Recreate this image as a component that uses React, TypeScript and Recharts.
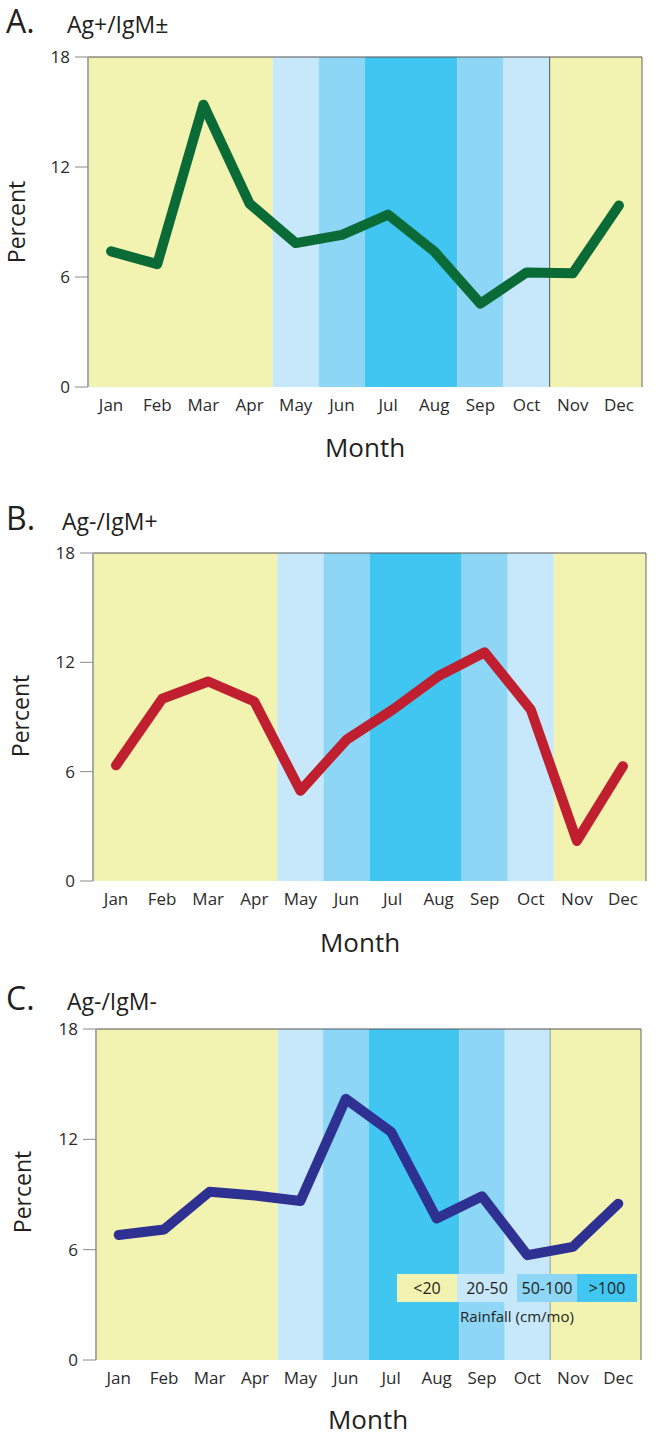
import { ComposedChart, Line, XAxis, YAxis, ReferenceArea, ReferenceLine } from "recharts";

const MONTHS = ["Jan", "Feb", "Mar", "Apr", "May", "Jun", "Jul", "Aug", "Sep", "Oct", "Nov", "Dec"];
const RAIN = ["<20", "<20", "<20", "<20", "20-50", "50-100", ">100", ">100", "50-100", "20-50", "<20", "<20"];
const RAIN_CLASSES = ["<20", "20-50", "50-100", ">100"];
const RAIN_COLORS = ["#f3f3b1", "#c6e8fa", "#8dd6f6", "#40c6f1"];
const Y_TICKS = [0, 6, 12, 18];

const AG_POS = [7.4, 6.7, 15.4, 10.0, 7.85, 8.3, 9.4, 7.4, 4.55, 6.25, 6.2, 9.9];
const AG_NEG_IGM_POS = [6.35, 10.0, 10.95, 9.85, 4.95, 7.75, 9.4, 11.25, 12.55, 9.4, 2.2, 6.3];
const AG_NEG_IGM_NEG = [6.8, 7.1, 9.15, 8.95, 8.65, 14.2, 12.4, 7.7, 8.9, 5.7, 6.15, 8.5];

const FONT = "'Open Sans', sans-serif";
const BOUNDS = Array.from({ length: MONTHS.length + 1 }, (_, i) => i);
const CENTERS = MONTHS.map((_, i) => i + 0.5);

// merge consecutive months with the same rainfall class into one band
const bands: { from: number; to: number; cls: string }[] = [];
RAIN.forEach((cls, i) => {
  const last = bands[bands.length - 1];
  if (last && last.cls === cls) last.to = i + 1;
  else bands.push({ from: i, to: i + 1, cls });
});

type PanelProps = {
  values: number[];
  color: string;
  top: number;
  left: number;
  right: number;
  plotH: number;
  divider?: string;
};

function Panel({ values, color, top, left, right, plotH, divider }: PanelProps) {
  const data = MONTHS.map((m, i) => ({ x: CENTERS[i], month: m, v: values[i] }));
  const yW = 50;
  const pad = 20;
  return (
    <div style={{ position: "absolute", left: 0, top: top - pad }}>
      <ComposedChart
        width={656}
        height={plotH + pad + 40}
        data={data}
        margin={{ top: pad, right: 656 - right, left: left - yW, bottom: 10 }}
      >
        <XAxis
          xAxisId="b"
          type="number"
          dataKey="x"
          domain={[0, 12]}
          ticks={BOUNDS}
          interval={0}
          height={0}
          tick={false}
          tickSize={13}
          tickLine={{ stroke: "#8a8a8a", strokeWidth: 1 }}
          axisLine={{ stroke: "#666", strokeWidth: 1.5 }}
        />
        <XAxis
          xAxisId="m"
          type="number"
          dataKey="x"
          domain={[0, 12]}
          ticks={CENTERS}
          interval={0}
          height={30}
          tickSize={0}
          tickMargin={12}
          tickLine={false}
          axisLine={false}
          tickFormatter={(v: number) => MONTHS[Math.floor(v)]}
          tick={{ fill: "#2b2b2b", fontSize: 17 }}
        />
        <YAxis
          type="number"
          domain={[0, 18]}
          ticks={Y_TICKS}
          interval={0}
          width={yW}
          tickSize={13}
          tickMargin={5}
          tickLine={{ stroke: "#8a8a8a" }}
          axisLine={{ stroke: "#a9a9a0", strokeWidth: 2 }}
          tick={{ fill: "#2b2b2b", fontSize: 17 }}
        />
        {bands.map((b) => (
          <ReferenceArea
            key={b.from}
            xAxisId="m"
            x1={b.from}
            x2={b.to}
            y1={0}
            y2={18}
            fill={RAIN_COLORS[RAIN_CLASSES.indexOf(b.cls)]}
            fillOpacity={1}
            stroke="none"
          />
        ))}
        {divider && <ReferenceLine xAxisId="m" x={10} stroke={divider} strokeWidth={1} />}
        <ReferenceLine xAxisId="m" y={18} stroke="#555" strokeWidth={1} />
        <ReferenceLine xAxisId="m" x={12} stroke="#666" strokeWidth={1} />
        <Line
          xAxisId="m"
          type="linear"
          dataKey="v"
          stroke={color}
          strokeWidth={10}
          strokeLinejoin="round"
          strokeLinecap="round"
          dot={false}
          isAnimationActive={false}
        />
      </ComposedChart>
    </div>
  );
}

function Titles() {
  const t = { fill: "#231f20", fontFamily: FONT };
  const heads = [
    { letter: "A.", name: "Ag+/IgM±", base: 33, nx: 67, px: 16, py: 222, mx: 365, my: 457 },
    { letter: "B.", name: "Ag-/IgM+", base: 530, nx: 62, px: 20, py: 716, mx: 360, my: 952 },
    { letter: "C.", name: "Ag-/IgM-", base: 1010, nx: 67, px: 22, py: 1192, mx: 368, my: 1429 },
  ];
  return (
    <svg width={656} height={1436} style={{ position: "absolute", left: 0, top: 0, pointerEvents: "none" }}>
      {heads.map((h) => (
        <g key={h.letter}>
          <text x={6} y={h.base} fontSize={32} {...t}>{h.letter}</text>
          <text x={h.nx} y={h.base} fontSize={23} {...t}>{h.name}</text>
          <text
            x={h.px}
            y={h.py}
            fontSize={23}
            textAnchor="middle"
            dominantBaseline="central"
            transform={`rotate(-90 ${h.px} ${h.py})`}
            {...t}
          >
            Percent
          </text>
          <text x={h.mx} y={h.my} fontSize={26} textAnchor="middle" {...t}>Month</text>
        </g>
      ))}
      <g>
        {RAIN_CLASSES.map((c, i) => (
          <g key={c}>
            <rect x={397 + i * 60} y={1274} width={60} height={28} fill={RAIN_COLORS[i]} />
            <text x={427 + i * 60} y={1294} fontSize={16} textAnchor="middle" {...t}>{c}</text>
          </g>
        ))}
        <text x={517} y={1322} fontSize={15} textAnchor="middle" {...t}>Rainfall (cm/mo)</text>
      </g>
    </svg>
  );
}

export default function App() {
  return (
    <div style={{ position: "absolute", left: 0, top: 0, width: 656, height: 1436, background: "#fff", fontFamily: FONT }}>
      <Panel values={AG_POS} color="#0b6b37" top={57} left={88} right={642} plotH={330} divider="#555" />
      <Panel values={AG_NEG_IGM_POS} color="#c01f2f" top={553} left={93} right={646} plotH={328} />
      <Panel values={AG_NEG_IGM_NEG} color="#2e3192" top={1029} left={96} right={641} plotH={331} divider="#999" />
      <Titles />
    </div>
  );
}
